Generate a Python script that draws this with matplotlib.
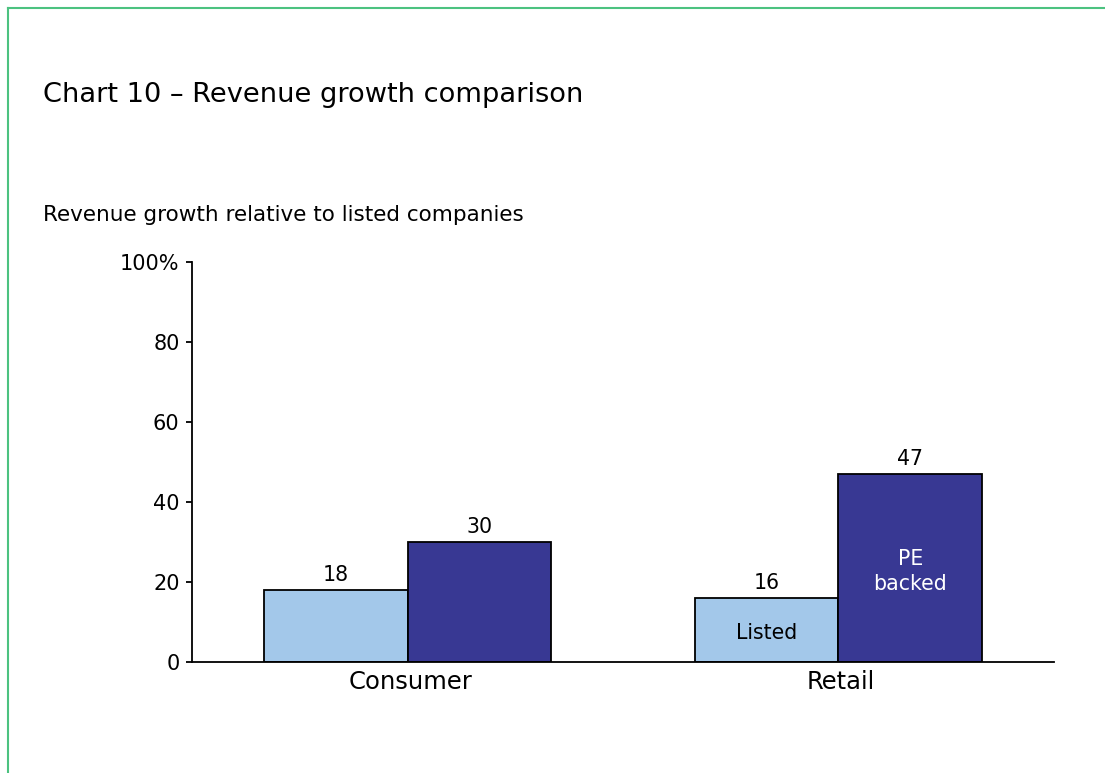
import matplotlib.pyplot as plt
import numpy as np
from matplotlib.lines import Line2D

plt.rcParams['font.family'] = ['DejaVu Sans']

categories = ['Consumer', 'Retail']
listed = [18, 16]
pe_backed = [30, 47]
y_ticks = [0, 20, 40, 60, 80, 100]
y_tick_labels = ['0', '20', '40', '60', '80', '100%']

LIGHT = '#a3c8ea'
DARK = '#383893'
FRAME = '#4cc280'


def main():
    fig = plt.figure(figsize=(11.05, 7.73), dpi=100)
    ax = fig.add_axes([0.1738, 0.1436, 0.78, 0.5175])

    x = np.arange(len(categories))
    w = 0.333
    b1 = ax.bar(x - w/2, listed, width=w, color=LIGHT, edgecolor='black', linewidth=1.3)
    b2 = ax.bar(x + w/2, pe_backed, width=w, color=DARK, edgecolor='black', linewidth=1.3)

    # value labels above each bar
    for bars, vals in ((b1, listed), (b2, pe_backed)):
        for rect, v in zip(bars, vals):
            ax.text(rect.get_x() + rect.get_width()/2, v + 1.2, str(v),
                    ha='center', va='bottom', fontsize=14.8, color='black')

    # series names written inside the Retail bars
    ax.text(x[1] - w/2, 7.3, 'Listed', ha='center', va='center', fontsize=14.8, color='black')
    ax.text(x[1] + w/2, 22.6, 'PE\nbacked', ha='center', va='center', fontsize=14.8,
            color='white', linespacing=1.3)

    ax.set_xlim(-0.5, 1.5)
    ax.set_ylim(0, 100)
    ax.set_yticks(y_ticks)
    ax.set_yticklabels(y_tick_labels, fontsize=15)
    ax.set_xticks(x + 0.006)
    ax.set_xticklabels(categories, fontsize=17.5)
    ax.tick_params(axis='x', length=0, pad=6)
    ax.tick_params(axis='y', length=4, width=1.3, pad=5)
    for s in ('top', 'right'):
        ax.spines[s].set_visible(False)
    for s in ('left', 'bottom'):
        ax.spines[s].set_linewidth(1.3)

    fig.text(43/1105, 1 - 95/773, 'Chart 10 \u2013 Revenue growth comparison',
             fontsize=19.6, ha='left', va='center')
    fig.text(43/1105, 1 - 215/773, 'Revenue growth relative to listed companies',
             fontsize=15.5, ha='left', va='center')

    # green frame along top and left edges
    fig.add_artist(Line2D([8/1105, 8/1105], [0, 1 - 8/773], color=FRAME, lw=1.5,
                          transform=fig.transFigure))
    fig.add_artist(Line2D([8/1105, 1], [1 - 8/773, 1 - 8/773], color=FRAME, lw=1.5,
                          transform=fig.transFigure))

    fig.savefig('out.png', dpi=100)


if __name__ == '__main__':
    main()
